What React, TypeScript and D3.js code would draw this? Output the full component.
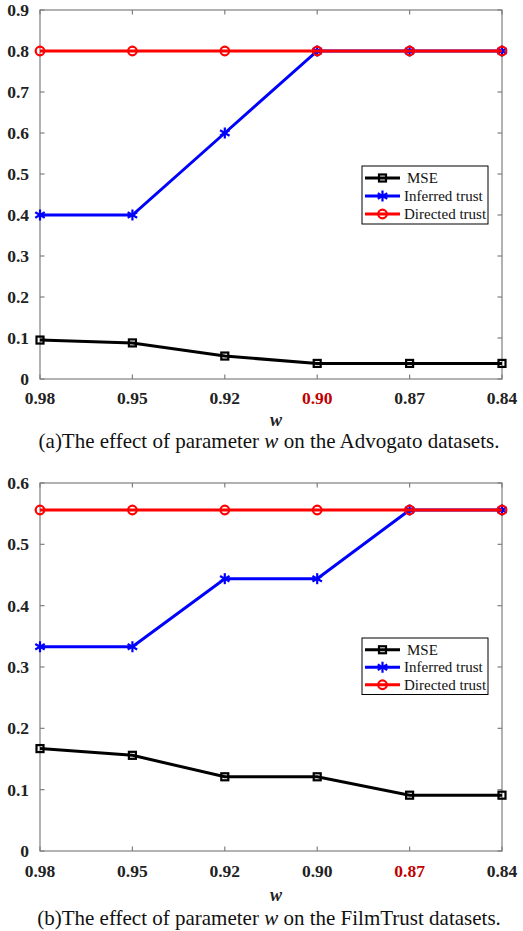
import React from "react";
import * as d3 from "d3";

const xLabels = ["0.98", "0.95", "0.92", "0.90", "0.87", "0.84"];
const advMSE = [0.095, 0.088, 0.056, 0.038, 0.038, 0.038];
const advInferred = [0.4, 0.4, 0.6, 0.8, 0.8, 0.8];
const advDirected = [0.8, 0.8, 0.8, 0.8, 0.8, 0.8];
const filmMSE = [0.167, 0.156, 0.121, 0.121, 0.091, 0.091];
const filmInferred = [0.333, 0.333, 0.444, 0.444, 0.556, 0.556];
const filmDirected = [0.556, 0.556, 0.556, 0.556, 0.556, 0.556];
const advYTicks = [0, 0.1, 0.2, 0.3, 0.4, 0.5, 0.6, 0.7, 0.8, 0.9];
const filmYTicks = [0, 0.1, 0.2, 0.3, 0.4, 0.5, 0.6];
const seriesNames = ["MSE", "Inferred trust", "Directed trust"];

const FONT = "'Liberation Serif', 'Times New Roman', serif";
const AXIS = "#7f7f7f";
const RED_LABEL = "#c00000";

type MarkerKind = "square" | "star" | "circle";

function Marker({ kind, x, y, color }: { kind: MarkerKind; x: number; y: number; color: string }) {
  if (kind === "square") {
    return <rect x={x - 3.5} y={y - 3.5} width={7} height={7} fill="none" stroke={color} strokeWidth={2.2} />;
  }
  if (kind === "circle") {
    return <circle cx={x} cy={y} r={4.3} fill="none" stroke={color} strokeWidth={2.2} />;
  }
  const r = 5.5;
  const lines = [0, 60, 120].map((a) => {
    const rad = (a * Math.PI) / 180;
    return (
      <line
        key={a}
        x1={x - r * Math.sin(rad)}
        y1={y - r * Math.cos(rad)}
        x2={x + r * Math.sin(rad)}
        y2={y + r * Math.cos(rad)}
        stroke={color}
        strokeWidth={2.2}
      />
    );
  });
  return <g>{lines}</g>;
}

function Panel(props: {
  top: number;
  bottom: number;
  yTicks: number[];
  mse: number[];
  inferred: number[];
  directed: number[];
  highlight: number;
  legendTop: number;
  legendStep: number;
  caption: string[];
  xLabelY: number;
  wY: number;
  captionY: number;
}) {
  const left = 40;
  const right = 502;
  const yMax = props.yTicks[props.yTicks.length - 1];
  const x = d3.scalePoint<string>().domain(xLabels).range([left, right]);
  const y = d3.scaleLinear().domain([0, yMax]).range([props.bottom, props.top]);
  const line = d3
    .line<number>()
    .x((_, i) => x(xLabels[i]) as number)
    .y((d) => y(d));
  const series: { data: number[]; color: string; kind: MarkerKind }[] = [
    { data: props.mse, color: "#000000", kind: "square" },
    { data: props.inferred, color: "#0000ff", kind: "star" },
    { data: props.directed, color: "#ff0000", kind: "circle" },
  ];
  const tickLen = 4.5;
  const lgX = 362;
  const lgW = 126;
  const lgH = props.legendStep * 3 + 4;
  return (
    <g>
      <rect x={left} y={props.top} width={right - left} height={props.bottom - props.top} fill="none" stroke={AXIS} strokeWidth={1.2} />
      {props.yTicks.map((t) => (
        <g key={t}>
          <line x1={left} x2={left + tickLen} y1={y(t)} y2={y(t)} stroke={AXIS} strokeWidth={1.2} />
          <line x1={right} x2={right - tickLen} y1={y(t)} y2={y(t)} stroke={AXIS} strokeWidth={1.2} />
          <text x={29} y={y(t)} dy="0.35em" textAnchor="end" fontFamily={FONT} fontWeight="bold" fontSize={17.5} fill="#222">
            {String(t)}
          </text>
        </g>
      ))}
      {xLabels.map((l, i) => (
        <g key={l}>
          <line x1={x(l)} x2={x(l)} y1={props.bottom} y2={props.bottom - tickLen} stroke={AXIS} strokeWidth={1.2} />
          <line x1={x(l)} x2={x(l)} y1={props.top} y2={props.top + tickLen} stroke={AXIS} strokeWidth={1.2} />
          <text
            x={x(l)}
            y={props.xLabelY}
            textAnchor="middle"
            fontFamily={FONT}
            fontWeight="bold"
            fontSize={17.5}
            fill={i === props.highlight ? RED_LABEL : "#222"}
          >
            {l}
          </text>
        </g>
      ))}
      <text x={276} y={props.wY} textAnchor="middle" fontFamily={FONT} fontWeight="bold" fontStyle="italic" fontSize={18} fill="#222">
        w
      </text>
      {series.map((s) => (
        <g key={s.color}>
          <path d={line(s.data) || ""} fill="none" stroke={s.color} strokeWidth={3} />
          {s.data.map((v, i) => (
            <Marker key={i} kind={s.kind} x={x(xLabels[i]) as number} y={y(v)} color={s.color} />
          ))}
        </g>
      ))}
      <rect x={lgX} y={props.legendTop} width={lgW} height={lgH} fill="#fff" stroke="#000" strokeWidth={1} />
      {series.map((s, i) => {
        const cy = props.legendTop + 2 + props.legendStep * (i + 0.5) + 1;
        return (
          <g key={s.color}>
            <line x1={365} x2={400} y1={cy} y2={cy} stroke={s.color} strokeWidth={3} />
            <Marker kind={s.kind} x={382.5} y={cy} color={s.color} />
            <text x={i === 0 ? 407 : 404} y={cy} dy="0.33em" fontFamily={FONT} fontSize={15} fill="#111">
              {seriesNames[i]}
            </text>
          </g>
        );
      })}
      <text x={269} y={props.captionY} textAnchor="middle" fontFamily={FONT} fontSize={21} fill="#111">
        {props.caption[0]}
        <tspan fontStyle="italic">w</tspan>
        {props.caption[1]}
      </text>
    </g>
  );
}

export default function App() {
  return (
    <svg width={523} height={931} style={{ position: "absolute", left: 0, top: 0, background: "#fff" }}>
      <rect width={523} height={931} fill="#fff" />
      <Panel
        top={10}
        bottom={379}
        yTicks={advYTicks}
        mse={advMSE}
        inferred={advInferred}
        directed={advDirected}
        highlight={3}
        legendTop={166}
        legendStep={18}
        caption={["(a)The effect of parameter ", " on the Advogato datasets."]}
        xLabelY={404}
        wY={426}
        captionY={448}
      />
      <Panel
        top={483}
        bottom={851}
        yTicks={filmYTicks}
        mse={filmMSE}
        inferred={filmInferred}
        directed={filmDirected}
        highlight={4}
        legendTop={638}
        legendStep={17.5}
        caption={["(b)The effect of parameter ", " on the FilmTrust datasets."]}
        xLabelY={877}
        wY={901}
        captionY={925}
      />
    </svg>
  );
}
